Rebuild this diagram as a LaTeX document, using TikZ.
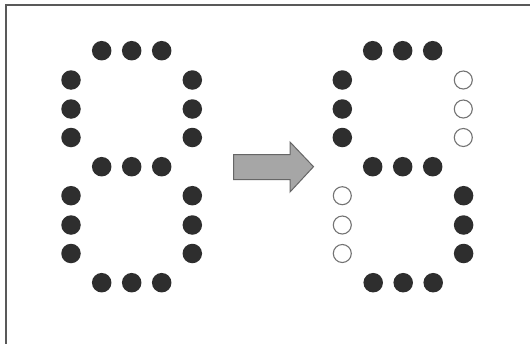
\documentclass[tikz,border=0pt]{standalone}
\begin{document}
\begin{tikzpicture}[x=1pt,y=-1pt,
  on/.style={circle,fill=black!82,draw=none,minimum size=19.5pt,inner sep=0pt},
  off/.style={circle,fill=white,draw=black!55,line width=1.1pt,minimum size=18pt,inner sep=0pt},
  frame/.style={draw=black!65,line width=1.6pt},
  bigarrow/.style={fill=black!35,draw=black!60,line width=1pt,line join=miter}]
\useasboundingbox (0,0) rectangle (530,343);
\fill[white] (0,0) rectangle (530,343);
\draw[frame] (6,345) -- (6,5) -- (532,5);
% left digit: all on
\foreach \x [count=\i] in {101.7,131.7,161.7}{
  \node[on] (Lt\i) at (\x,50.7) {};
  \node[on] (Lm\i) at (\x,166.7) {};
  \node[on] (Lb\i) at (\x,282.7) {};
}
\foreach \y [count=\i] in {80,109,137.5}{
  \node[on] (Lul\i) at (71,\y) {};
  \node[on] (Lur\i) at (192.3,\y) {};
}
\foreach \y [count=\i] in {195.7,225,253.5}{
  \node[on] (Lll\i) at (71,\y) {};
  \node[on] (Llr\i) at (192.3,\y) {};
}
% right digit: 5
\foreach \x [count=\i] in {372.7,402.7,432.7}{
  \node[on] (Rt\i) at (\x,50.7) {};
  \node[on] (Rm\i) at (\x,166.7) {};
  \node[on] (Rb\i) at (\x+0.5,282.7) {};
}
\foreach \y [count=\i] in {80,109,137.5}{
  \node[on] (Rul\i) at (342.3,\y) {};
  \node[off] (Rur\i) at (463.3,\y) {};
}
\foreach \y [count=\i] in {195.7,225,253.5}{
  \node[off] (Rll\i) at (342.3,\y) {};
  \node[on] (Rlr\i) at (463.6,\y) {};
}
% arrow
\draw[bigarrow] (233.5,154.5) -- (290,154.5) -- (290,142) -- (313.5,166.7)
  -- (290,192) -- (290,179.5) -- (233.5,179.5) -- cycle;
\end{tikzpicture}
\end{document}
